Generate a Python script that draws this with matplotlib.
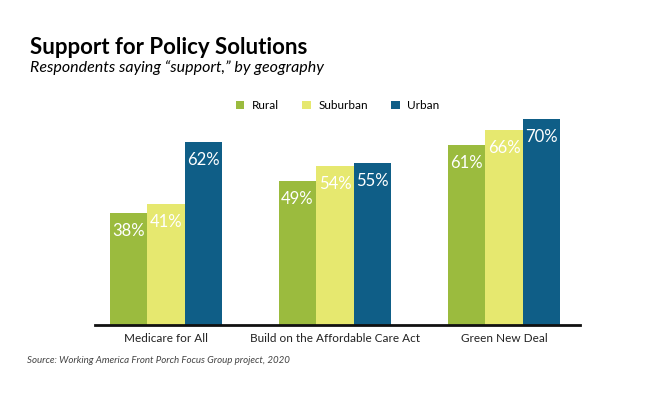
import numpy as np
import matplotlib.pyplot as plt

categories = ["Medicare for All", "Build on the Affordable Care Act", "Green New Deal"]
series = ["Rural", "Suburban", "Urban"]
rural = [38, 49, 61]
suburban = [41, 54, 66]
urban = [62, 55, 70]
colors = ["#9bbb3e", "#e6e86f", "#0f5e87"]

plt.rcParams['font.family'] = ['Lato', 'DejaVu Sans']

fig = plt.figure(figsize=(6.7, 3.93), dpi=100)
ax = fig.add_axes([0.1418, 0.173, 0.724, 0.585])

x = np.arange(len(categories))
w = 0.222
for i, (name, vals) in enumerate(zip(series, [rural, suburban, urban])):
    bars = ax.bar(x + (i - 1) * w, vals, w, color=colors[i], label=name)
    for b, v in zip(bars, vals):
        ax.annotate(f"{v}%", (b.get_x() + b.get_width() / 2, v),
                    xytext=(0, -18), textcoords="offset pixels",
                    ha="center", va="center", color="white",
                    fontsize=12)

ax.set_xlim(-0.42, 2.45)
ax.set_ylim(0, 78)
ax.set_yticks([])
ax.set_xticks(x)
ax.set_xticklabels(categories, fontsize=8.5, color="#222222")
ax.tick_params(axis="x", length=0, pad=6)
for s in ["top", "right", "left"]:
    ax.spines[s].set_visible(False)
ax.spines["bottom"].set_linewidth(2)
ax.spines["bottom"].set_color("#111111")

ax.legend(loc="center", bbox_to_anchor=(0.5, 0.955), ncol=3, frameon=False,
          fontsize=8.5, handlelength=0.75, handleheight=0.75, handletextpad=0.6,
          columnspacing=2.0)

fig.text(0.045, 0.878, "Support for Policy Solutions", fontsize=16, fontweight="bold",
         va="center")
fig.text(0.045, 0.828, "Respondents saying \u201csupport,\u201d by geography", fontsize=11.5,
         style="italic", va="center")
fig.text(0.04, 0.082, "Source: Working America Front Porch Focus Group project, 2020",
         fontsize=7, style="italic", color="#444444", va="center")

fig.savefig("out.png", dpi=100)
